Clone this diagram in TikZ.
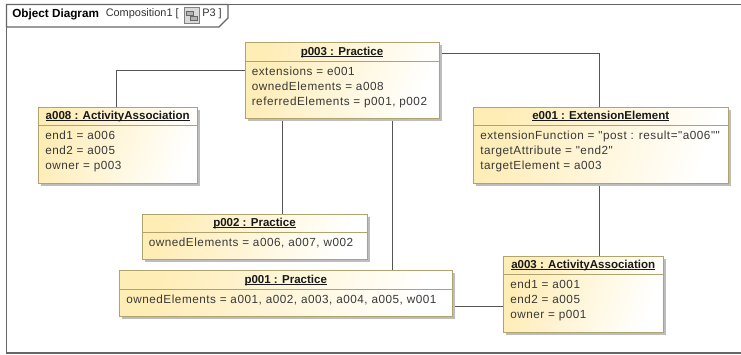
\documentclass[tikz,border=0pt]{standalone}
\usepackage{fontspec}
\setmainfont{Liberation Sans}
\newfontfamily\spacedsans[LetterSpace=4.5]{Liberation Sans}
\usetikzlibrary{calc}
\definecolor{boxline}{HTML}{B0A36E}
\definecolor{fillA}{HTML}{FFEDB6}
\definecolor{conn}{HTML}{555555}
\definecolor{frameline}{HTML}{666666}
\definecolor{shadowc}{HTML}{BDBDBD}
\tikzset{
  x=0.75pt,y=-0.75pt,
  conline/.style={draw=conn,line width=0.75pt},
  headtext/.style={font=\fontsize{8.65pt}{10pt}\selectfont\bfseries,anchor=base,text=black!90,inner sep=0pt},
  attrtext/.style={font=\spacedsans\fontsize{8.8pt}{11.25pt}\selectfont,anchor=north west,align=left,inner sep=0pt,text=black!78},
  tabbold/.style={font=\fontsize{8.8pt}{10pt}\selectfont\bfseries,anchor=west,inner sep=0pt},
  tabtext/.style={font=\fontsize{8.2pt}{10pt}\selectfont,anchor=west,inner sep=0pt,text=black!80},
}
\newcommand{\titleline}[1]{\sbox0{#1}\rlap{\rule[-1.2pt]{\wd0}{0.5pt}}\usebox0}
% #1 name #2 x0 #3 y0 #4 x1 #5 y1 #6 header y #7 title #8 body
\newcommand{\umlobj}[8]{%
  \fill[shadowc] (#2+2.5,#3+2.5) rectangle (#4+2.5,#5+2.5);
  \shade[left color=fillA,right color=white,shading angle=70] (#2,#3) rectangle (#4,#5);
  \draw[boxline,line width=0.75pt] (#2,#3) rectangle (#4,#5);
  \draw[boxline,line width=0.75pt] (#2,#6) -- (#4,#6);
  \node[headtext] (#1-title) at ({(#2+#4)/2},#6-6) {\titleline{#7}};
  \node[attrtext] (#1) at (#2+6.5,#6+5.5) {#8};
}
\begin{document}
\begin{tikzpicture}
\useasboundingbox (0,0) rectangle (741,354);
\fill[white] (0,0) rectangle (741,354);
% frame
\draw[frameline,line width=0.9pt] (741,4.5) -- (6.5,4.5) -- (6.5,353) -- (741,353);
\draw[frameline,line width=0.9pt,fill=white] (6.5,4.5) -- (228,4.5) -- (228,18) -- (219,27) -- (6.5,27) -- cycle;
\node[tabbold] (frametitle) at (12,14) {Object Diagram};
\node[tabtext] (framename) at (105.5,14) {Composition1 [};
\draw[gray,fill=black!15,line width=0.4pt] (184,7.5) rectangle (199,23);
\draw[black!60,fill=black!30,line width=0.4pt] (186,11) rectangle (193,15);
\draw[black!60,fill=black!30,line width=0.4pt] (190,16) rectangle (197,20);
\node[tabtext] (framep) at (202,14) {P3 ]};
% connector anchors
\coordinate (c1a) at (245,70.5);
\coordinate (c1b) at (116.5,107);
\coordinate (c2a) at (439,53.5);
\coordinate (c2b) at (599,107);
\coordinate (c3a) at (599,183);
\coordinate (c3b) at (599,256);
\coordinate (c4a) at (282,118);
\coordinate (c4b) at (282,214);
\coordinate (c5a) at (392.5,118);
\coordinate (c5b) at (392.5,270.5);
\coordinate (c6a) at (452,306);
\coordinate (c6b) at (503,306);
\draw[conline] (c1a) -| (c1b);
\draw[conline] (c2a) -| (c2b);
\draw[conline] (c3a) -- (c3b);
\draw[conline] (c4a) -- (c4b);
\draw[conline] (c5a) -- (c5b);
\draw[conline] (c6a) -- (c6b);
% objects
\umlobj{p3}{245}{42.5}{439}{118}{61}{p003 : Practice}{extensions = e001\\ownedElements = a008\\referredElements = p001, p002}
\umlobj{a8}{38.5}{107}{197}{183}{125}{a008 : ActivityAssociation}{end1 = a006\\end2 = a005\\owner = p003}
\umlobj{e1}{473.5}{107}{728}{183}{125}{e001 : ExtensionElement}{extensionFunction = "post : result="a006""\\targetAttribute = "end2"\\targetElement = a003}
\umlobj{p2}{142}{214}{367}{259}{232}{p002 : Practice}{ownedElements = a006, a007, w002}
\umlobj{p1}{119.5}{270.5}{452}{316}{289}{p001 : Practice}{ownedElements = a001, a002, a003, a004, a005, w001}
\umlobj{a3}{503.5}{256}{663}{332}{274}{a003 : ActivityAssociation}{end1 = a001\\end2 = a005\\owner = p001}
\end{tikzpicture}
\end{document}
